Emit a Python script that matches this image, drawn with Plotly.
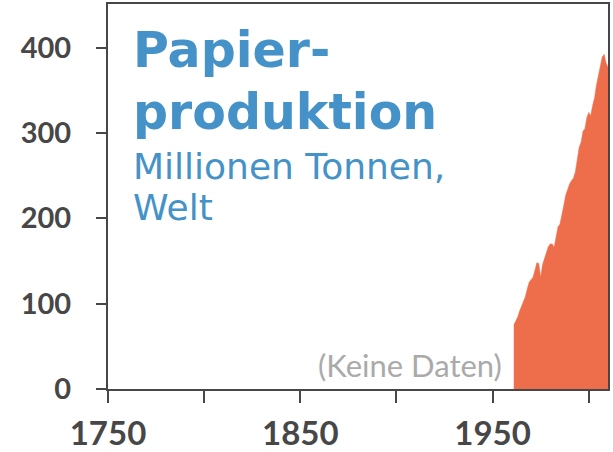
import plotly.graph_objects as go

# Data: world paper production, million tonnes
years = list(range(1961, 2011))
production = [75, 79, 84, 91, 97, 104, 108, 117, 125, 128,
              131, 139, 148, 147, 131, 146, 153, 160, 167, 170,
              170, 166, 178, 190, 193, 203, 215, 227, 234, 240,
              244, 247, 254, 270, 283, 289, 302, 305, 318, 324,
              320, 332, 341, 356, 367, 380, 389, 392, 382, 377]

x_tickvals = [1750, 1800, 1850, 1900, 1950, 2000]
x_ticktext = ["1750", "", "1850", "", "1950", ""]
y_tickvals = [0, 100, 200, 300, 400]

AXIS = "#474747"
ORANGE = "#EE6E4B"
BLUE = "#4592C8"

fig = go.Figure()
fig.add_trace(go.Scatter(
    x=years, y=production, mode="lines", fill="tozeroy",
    line=dict(color=ORANGE, width=0.5), fillcolor=ORANGE,
    hoverinfo="skip", showlegend=False))

W, H = 613, 452
L, R, T, B = 108, 5, 4, 63
pw, ph = W - L - R, H - T - B

def px(x):
    return (x - L) / pw

def py(y):
    return (H - B - y) / ph

annots = [
    dict(text="<b>Papier-</b>", x=px(131), y=py(50), size=49, family="DejaVu Sans", color=BLUE),
    dict(text="<b>produktion</b>", x=px(131), y=py(112), size=49, family="DejaVu Sans", color=BLUE),
    dict(text="Millionen Tonnen,", x=px(131), y=py(166), size=36, family="DejaVu Sans", color=BLUE),
    dict(text="Welt", x=px(131), y=py(208), size=36, family="DejaVu Sans", color=BLUE),
]
layout_annots = []
for a in annots:
    layout_annots.append(dict(
        text=a["text"], xref="paper", yref="paper", x=a["x"], y=a["y"],
        xanchor="left", yanchor="middle", showarrow=False,
        font=dict(family=a["family"], size=a["size"], color=a["color"])))
layout_annots.append(dict(
    text="(Keine Daten)", xref="x", yref="paper", x=1961, y=py(365),
    xanchor="right", yanchor="middle", xshift=-10, showarrow=False,
    font=dict(family="Lato", size=31, color="#AAAAAA")))

fig.update_layout(
    width=W, height=H,
    margin=dict(l=L, r=R, t=T, b=B, pad=0, autoexpand=False),
    plot_bgcolor="white", paper_bgcolor="white",
    annotations=layout_annots,
    xaxis=dict(range=[1750, 2010], tickvals=x_tickvals, ticktext=x_ticktext,
               automargin=False,
               showgrid=False, zeroline=False, showline=True, mirror=True,
               linecolor=AXIS, linewidth=2, ticks="outside", ticklen=12,
               tickwidth=2, tickcolor=AXIS, ticklabelstandoff=2,
               tickfont=dict(family="Lato", size=33, color=AXIS, weight="bold")),
    yaxis=dict(range=[0, 451], tickvals=y_tickvals, automargin=False,
               showgrid=False, zeroline=False, showline=True, mirror=True,
               linecolor=AXIS, linewidth=2, ticks="outside", ticklen=10,
               tickwidth=2, tickcolor=AXIS, ticklabelstandoff=19,
               tickfont=dict(family="Lato", size=29, color=AXIS, weight="bold")),
)

fig.write_html("out.html", config={"displayModeBar": False},
               post_script="document.body.style.margin='0';document.body.style.overflow='hidden';")
